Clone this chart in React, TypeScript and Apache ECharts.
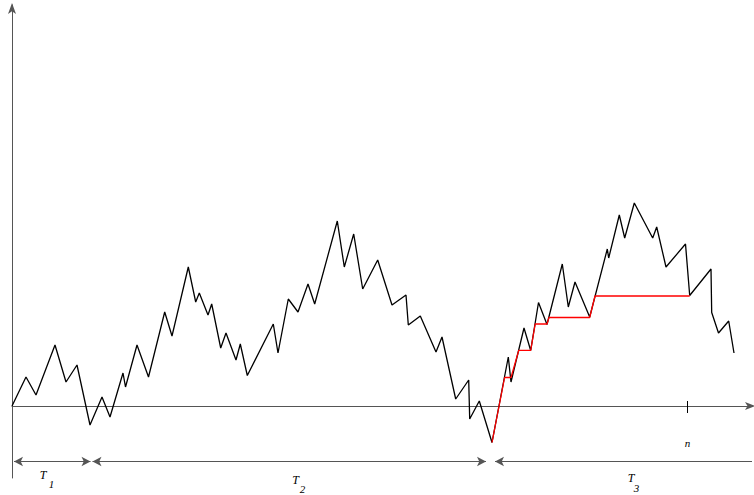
import React, { useEffect, useRef } from "react";
import * as echarts from "echarts";

// Random walk vertices (step index units, height units)
const walkX = [0, 14, 24, 43, 54, 65, 78, 90, 98, 111, 113.5, 125, 136.5, 152.7, 160, 176.3, 183.7, 187.3, 196, 199.7, 208.7, 214, 224, 228.3, 235.3, 261.3, 266, 276.3, 286, 296, 302.7, 325.3, 332.3, 341.7, 350.7, 365.7, 380, 394, 396.3, 408.3, 424, 430, 443.7, 456.7, 457.7, 467.3, 480, 496.3, 499, 512, 518.7, 526.5, 535, 550.3, 556.3, 563, 577.7, 595.3, 596.7, 607.3, 612.7, 622.3, 640.7, 644.7, 654, 673.5, 677.7, 699, 699.7, 706.5, 716.7, 722];
const walkY = [0, 29, 11, 61, 24, 41, -19, 9, -11, 33, 19, 61, 29, 94, 70, 139, 104, 113, 91, 102, 58, 73, 46, 62, 30.5, 82, 53, 107, 94, 122, 102, 185, 139, 172, 117, 146, 101, 111, 81, 90, 54, 69, 7, 26, -13, 5, -36.5, 49, 24, 78, 55.5, 103.5, 81.5, 142, 99, 124, 89, 157, 148, 191, 168, 203, 168, 179, 139, 162, 110.5, 137, 93.5, 73, 85, 53];

// Future-minimum path (red), from the minimum up to n
const minX = [480, 492.6, 499, 506.8, 518.7, 523.2, 535, 537, 577.7, 583, 677.7];
const minY = [-36.5, 28.5, 28.5, 55.7, 55.7, 82, 82, 88.5, 88.5, 110, 110];

// Marker of n
const nStep = 675.5;

// Bottom interval arrows: [start, end]
const spanStart = [2, 80.5, 483];
const spanEnd = [78.5, 474, 740];
const spanLevel = -55.5;

// Labels
const spanLetters = ["T", "T", "T"];
const spanSubs = ["1", "2", "3"];
const letterX = [31, 283.5, 619];
const letterY = [-69, -74, -71.5];
const subX = [39.5, 290.5, 624.5];
const subY = [-78, -83, -82];
const nLabel = "n";
const nLabelY = -36.5;

export default function App() {
  const ref = useRef<HTMLDivElement>(null);
  useEffect(() => {
    document.body.style.margin = "0";
    const chart = echarts.init(ref.current!, null, { renderer: "svg" });
    const axisLineStyle = { color: "#555", width: 1 };
    chart.setOption({
      animation: false,
      backgroundColor: "#fff",
      grid: { left: 12, right: 2, top: 5, bottom: 17 },
      xAxis: {
        type: "value",
        min: 0,
        max: 740,
        axisLine: {
          show: true,
          onZero: true,
          symbol: ["none", "arrow"],
          symbolSize: [6, 10],
          symbolOffset: [0, 3],
          lineStyle: axisLineStyle,
        },
        axisTick: { show: false },
        axisLabel: { show: false },
        splitLine: { show: false },
      },
      yAxis: {
        type: "value",
        min: -72,
        max: 401,
        axisLine: {
          show: true,
          onZero: false,
          symbol: ["none", "arrow"],
          symbolSize: [6, 11],
          symbolOffset: [0, 2],
          lineStyle: axisLineStyle,
        },
        axisTick: { show: false },
        axisLabel: { show: false },
        splitLine: { show: false },
      },
      series: [
        {
          type: "line",
          data: walkX.map((x, i) => [x, walkY[i]]),
          showSymbol: false,
          symbol: "none",
          clip: false,
          lineStyle: { color: "#000", width: 1.3 },
          markLine: {
            silent: true,
            symbol: ["none", "none"],
            label: { show: false },
            lineStyle: { color: "#000", width: 1, type: "solid" },
            data: [[{ coord: [nStep, 5] }, { coord: [nStep, -7] }]],
          },
        },
        {
          type: "line",
          data: minX.map((x, i) => [x, minY[i]]),
          showSymbol: false,
          symbol: "none",
          clip: false,
          lineStyle: { color: "#f00", width: 1.3 },
        },
        {
          type: "line",
          data: [],
          markLine: {
            silent: true,
            label: { show: false },
            symbolSize: [7, 9],
            lineStyle: { color: "#555", width: 1.2, type: "solid" },
            data: spanStart.map((s, i) => [
              { coord: [s, spanLevel], symbol: "arrow" },
              { coord: [spanEnd[i], spanLevel], symbol: i === 2 ? "none" : "arrow" },
            ]),
          },
        },
      ],
    });
    const px = (p: number[]) => chart.convertToPixel({ gridIndex: 0 }, p) as number[];
    const textBase = {
      fontFamily: "'Liberation Serif', 'DejaVu Serif', serif",
      fontStyle: "italic",
      fill: "#000",
      align: "center",
      verticalAlign: "middle",
    };
    const graphics: any[] = [];
    spanLetters.forEach((t, i) => {
      const a = px([letterX[i], letterY[i]]);
      const b = px([subX[i], subY[i]]);
      graphics.push({
        type: "text",
        x: a[0],
        y: a[1],
        style: { ...textBase, text: t, fontSize: 12 },
      });
      graphics.push({
        type: "text",
        x: b[0],
        y: b[1],
        style: { ...textBase, text: spanSubs[i], fontSize: 11 },
      });
    });
    const np = px([nStep, nLabelY]);
    graphics.push({
      type: "text",
      x: np[0],
      y: np[1],
      style: { ...textBase, text: nLabel, fontSize: 11 },
    });
    chart.setOption({ graphic: graphics });
    return () => chart.dispose();
  }, []);
  return <div ref={ref} style={{ width: 754, height: 495 }} />;
}
